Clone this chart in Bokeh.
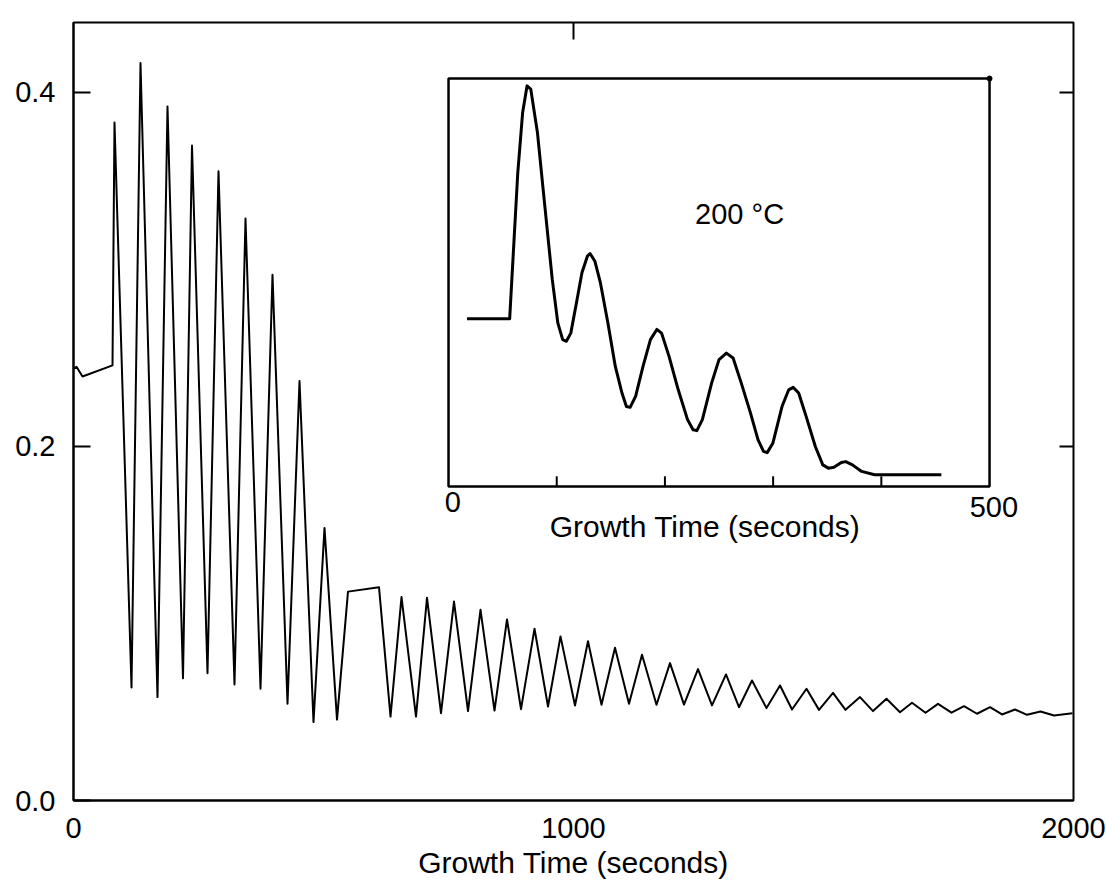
from bokeh.plotting import figure
from bokeh.models import Range1d, FixedTicker, Label
from bokeh.embed import file_html
from bokeh.resources import INLINE

# ---------------- data ----------------
# main trace: growth time (s) and intensity
main_t = [0, 6, 18, 78,
          82, 116, 134, 168, 188, 219, 237, 268, 290, 322, 344, 374,
          398, 428, 452, 480, 502, 527,
          549, 611, 634,
          656, 685, 707, 735, 761, 789, 814, 842, 867, 895, 922, 949,
          974, 1003, 1029, 1056, 1083, 1111, 1137, 1166, 1193, 1221,
          1249, 1277, 1305, 1331, 1357, 1386, 1413, 1437, 1466, 1491,
          1519, 1544, 1573, 1599, 1626, 1653, 1677, 1704, 1729, 1756,
          1781, 1807, 1833, 1857, 1883, 1907, 1934, 1961, 1998]
main_v = [0.244, 0.245, 0.2395, 0.2458,
          0.383, 0.0638, 0.4166, 0.0584, 0.392, 0.069, 0.370, 0.0719, 0.3555, 0.0655, 0.3288, 0.0631,
          0.297, 0.0547, 0.237, 0.0443, 0.154, 0.0457,
          0.118, 0.1205, 0.0474,
          0.1149, 0.0474, 0.1145, 0.0493, 0.1124, 0.0505, 0.1077, 0.0508, 0.1023, 0.0516, 0.0970, 0.0531,
          0.0927, 0.0537, 0.0900, 0.0541, 0.0863, 0.0546, 0.0823, 0.0541, 0.0776, 0.0542,
          0.0742, 0.0537, 0.0712, 0.0527, 0.0678, 0.0522, 0.0650, 0.0514, 0.0631, 0.0512,
          0.0608, 0.0512, 0.0584, 0.0505, 0.0575, 0.0499, 0.0552, 0.0496, 0.0546, 0.0496,
          0.0533, 0.0490, 0.0527, 0.0486, 0.0514, 0.0484, 0.0503, 0.0480, 0.0493]

# inset trace (200 C): growth time (s) and relative intensity (frame = 0..1)
inset_t = [17.1, 56.5, 64.0, 68.5, 72.6, 76.0, 82.2, 89.0, 95.9, 101.0, 105.5, 108.9,
           113.0, 118.2, 123.3, 128.4, 130.8, 135.3, 140.4, 147.3, 154.1, 160.3, 164.4, 167.8,
           172.9, 179.8, 186.6, 192.5, 196.9, 203.8, 212.3, 220.9, 226.0, 229.5,
           234.6, 243.2, 250.0, 256.8, 263.0, 270.5, 279.1, 286.0, 291.1, 294.5,
           299.7, 308.2, 314.4, 318.5, 323.6, 330.5, 339.0, 345.9, 351.0,
           356.2, 363.0, 367.1, 373.3, 381.8, 393.8, 455.5]
inset_v = [0.411, 0.411, 0.769, 0.917, 0.982, 0.974, 0.867, 0.687, 0.507, 0.401, 0.360, 0.356,
           0.376, 0.450, 0.524, 0.565, 0.571, 0.552, 0.499, 0.401, 0.295, 0.229, 0.196, 0.194,
           0.221, 0.295, 0.360, 0.385, 0.376, 0.319, 0.237, 0.164, 0.139, 0.137,
           0.164, 0.254, 0.311, 0.327, 0.315, 0.254, 0.180, 0.115, 0.086, 0.083,
           0.106, 0.196, 0.237, 0.243, 0.229, 0.172, 0.098, 0.053, 0.045,
           0.047, 0.059, 0.061, 0.053, 0.037, 0.029, 0.029]

main_xticks = [0, 1000, 2000]
main_yticks = [0.0, 0.2, 0.4]
main_ylabels = {0.0: "0.0", 0.2: "0.2", 0.4: "0.4"}
right_yticks = [0.2, 0.4]
top_xticks = [1000]
inset_minor = [100, 200, 300, 400]
inset_xlabels = ["0", "500"]
xlabel = "Growth Time (seconds)"
inset_note = "200 \u00b0C"

FONT = "Liberation Sans"
TICK_FS = "29px"
LAB_FS = "30px"

X0, X1, Y0, Y1 = 0, 2000, 0, 0.4395

# ---------------- main figure ----------------
p = figure(frame_width=1000, frame_height=778,
           x_range=Range1d(X0, X1), y_range=Range1d(Y0, Y1),
           min_border_left=73, min_border_right=33, min_border_top=22, min_border_bottom=93,
           output_backend="svg", toolbar_location=None)
p.background_fill_color = "white"
p.border_fill_color = "white"
p.outline_line_color = "black"
p.outline_line_width = 2
p.xgrid.visible = False
p.ygrid.visible = False

p.line(main_t, main_v, line_color="black", line_width=2, line_join="round")

xa = p.xaxis[0]
xa.ticker = FixedTicker(ticks=main_xticks)
xa.major_tick_in = 0
xa.major_tick_out = 0
xa.minor_tick_line_color = None
xa.axis_line_width = 2
xa.major_label_standoff = 17
xa.major_label_text_font = FONT
xa.major_label_text_font_size = TICK_FS
xa.major_label_text_color = "black"
xa.axis_label = xlabel
xa.axis_label_text_font = FONT
xa.axis_label_text_font_size = LAB_FS
xa.axis_label_text_font_style = "normal"
xa.axis_label_text_color = "black"
xa.axis_label_standoff = 5

ya = p.yaxis[0]
ya.ticker = FixedTicker(ticks=main_yticks)
ya.major_label_overrides = main_ylabels
ya.major_tick_in = 17
ya.major_tick_out = 0
ya.major_tick_line_width = 2
ya.minor_tick_line_color = None
ya.axis_line_width = 2
ya.major_label_standoff = 18
ya.major_label_text_font = FONT
ya.major_label_text_font_size = TICK_FS
ya.major_label_text_color = "black"

# mirrored inward ticks on the right and top edges of the frame
rt_len = 28      # 14 px in x data units
tp_len = 0.0096  # 17 px in y data units
p.segment(x0=[X1] * len(right_yticks), y0=right_yticks,
          x1=[X1 - rt_len] * len(right_yticks), y1=right_yticks,
          line_color="black", line_width=2)
p.segment(x0=top_xticks, y0=[Y1] * len(top_xticks),
          x1=top_xticks, y1=[Y1 - tp_len] * len(top_xticks),
          line_color="black", line_width=2)

# ---------------- inset drawn on its own ranges ----------------
p.extra_x_ranges = {"ix": Range1d(-346.6, 577.6)}
p.extra_y_ranges = {"iy": Range1d(-0.7696, 1.1373)}

p.quad(left=[0], right=[500], bottom=[0], top=[1], fill_color="white",
       line_color="black", line_width=2.5, x_range_name="ix", y_range_name="iy")
p.segment(x0=inset_minor, y0=[0] * len(inset_minor), x1=inset_minor,
          y1=[0.025] * len(inset_minor), line_color="black", line_width=2,
          x_range_name="ix", y_range_name="iy")
p.scatter([500], [1], size=5, color="black", x_range_name="ix", y_range_name="iy")
p.line(inset_t, inset_v, line_color="black", line_width=3, line_join="round",
       x_range_name="ix", y_range_name="iy")

for txt, xv, yv in zip(inset_xlabels, [4, 504], [-0.038, -0.049]):
    p.add_layout(Label(x=xv, y=yv, text=txt, x_range_name="ix", y_range_name="iy",
                       text_align="center", text_baseline="alphabetic",
                       text_font=FONT, text_font_size=TICK_FS, text_color="black"))
p.add_layout(Label(x=237, y=-0.097, text=xlabel, x_range_name="ix", y_range_name="iy",
                   text_align="center", text_baseline="alphabetic",
                   text_font=FONT, text_font_size=LAB_FS, text_color="black"))
p.add_layout(Label(x=269, y=0.667, text=inset_note, x_range_name="ix", y_range_name="iy",
                   text_align="center", text_baseline="alphabetic",
                   text_font=FONT, text_font_size=TICK_FS, text_color="black"))

open("out.html", "w").write(file_html(p, INLINE))
